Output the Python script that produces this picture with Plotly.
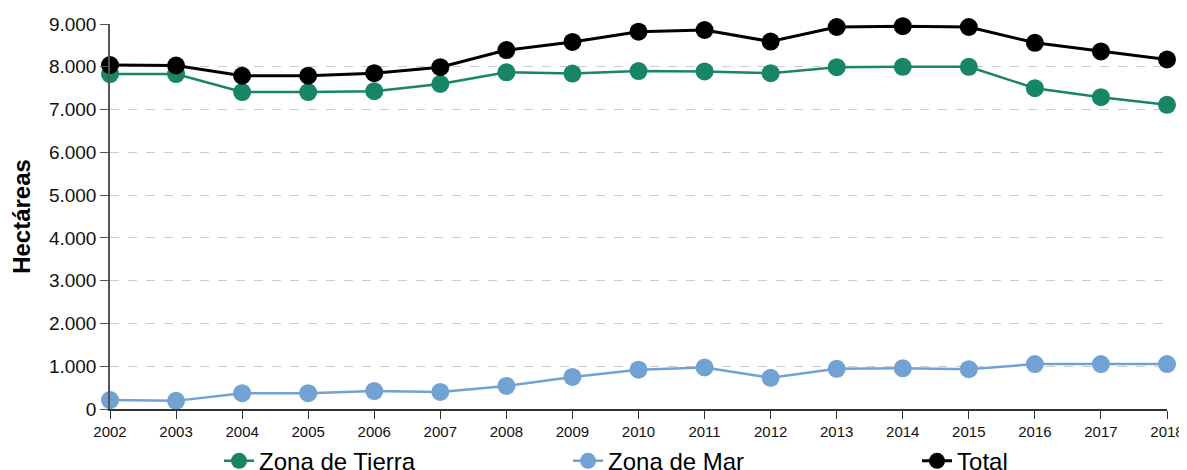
import plotly.graph_objects as go

years = list(range(2002, 2019))
tierra = [7830, 7830, 7410, 7410, 7430, 7600, 7870, 7840, 7900, 7890, 7850, 7990, 8000, 8000, 7500, 7290, 7110]
mar = [210, 190, 370, 370, 420, 400, 540, 750, 920, 970, 730, 940, 950, 930, 1050, 1050, 1050]
total = [8040, 8030, 7790, 7790, 7850, 7990, 8390, 8580, 8820, 8860, 8590, 8930, 8950, 8930, 8560, 8360, 8170]
y_ticks = list(range(0, 10000, 1000))

fig = go.Figure()

series = [
    ("Zona de Tierra", tierra, "#178566", 2.5),
    ("Zona de Mar", mar, "#72a2d3", 2.5),
    ("Total", total, "#000000", 3),
]
for name, vals, color, lw in series:
    fig.add_trace(go.Scatter(
        x=years, y=vals, name=name, mode="lines+markers",
        line=dict(color=color, width=lw),
        marker=dict(color=color, size=18),
        cliponaxis=False,
    ))

# page body has an 8px margin, so the figure is sized/offset to compensate
fig.update_layout(
    width=1179, height=462,
    margin=dict(l=102, r=20, t=16, b=61),
    plot_bgcolor="white", paper_bgcolor="white",
    separators=",.",
    font=dict(family="Liberation Sans, Arial, sans-serif", color="#111"),
    showlegend=True,
    legend=dict(
        orientation="h", xref="container", yref="container",
        x=0.179, xanchor="left", y=0.019, yanchor="middle",
        font=dict(size=24, color="#000"),
        entrywidth=304, entrywidthmode="pixels",
        tracegroupgap=0,
    ),
)

fig.update_xaxes(
    range=[2002, 2018], tickmode="array", tickvals=years,
    ticktext=[str(y) for y in years], automargin=False,
    showgrid=False, showline=True, linecolor="#333", linewidth=1.5,
    ticks="outside", ticklen=8, tickcolor="#333",
    tickfont=dict(size=15, color="#111"), zeroline=False,
)
fig.update_yaxes(
    range=[0, 9000], tickvals=y_ticks, tickformat=",d", automargin=False,
    showgrid=True, gridcolor="#cccccc", griddash="dash", gridwidth=1,
    showline=True, linecolor="#555", linewidth=1.5,
    ticks="outside", ticklen=8, tickcolor="#555",
    tickfont=dict(size=19, color="#111"), zeroline=False,
    title=dict(text="<b>Hectáreas</b>", font=dict(size=24, color="#000"), standoff=12),
)

fig.write_html("out.html")
